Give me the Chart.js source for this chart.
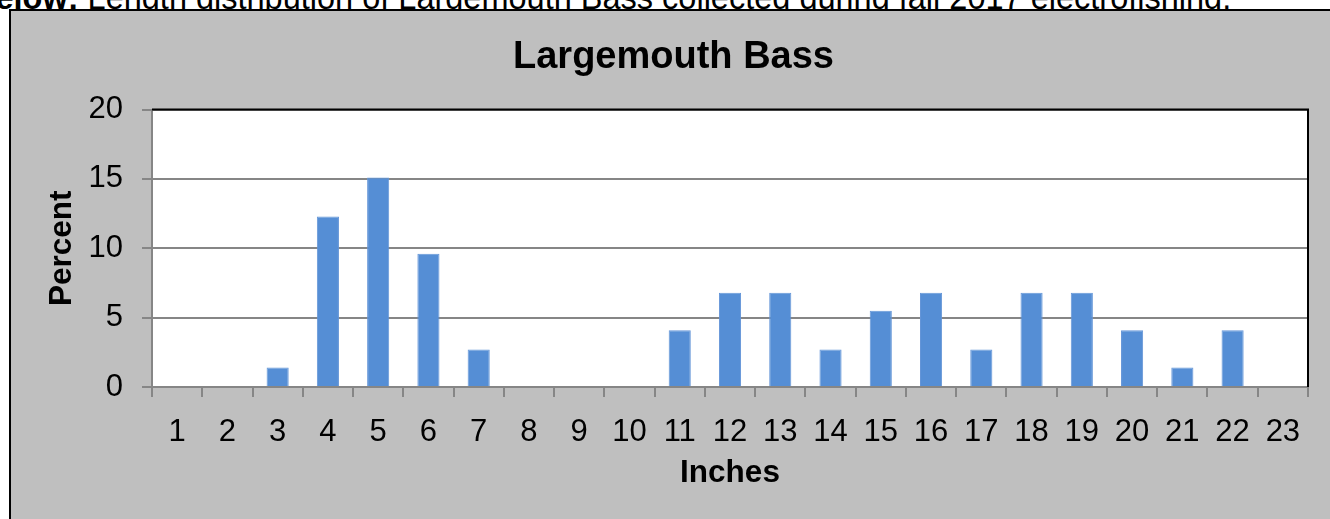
<!DOCTYPE html>
<html>
<head>
<meta charset="utf-8">
<script src="https://cdn.jsdelivr.net/npm/chart.js@4"></script>
<style>
  body { margin: 0; background: #fff; overflow: hidden; font-family: "Liberation Sans", Arial, sans-serif; }
  #caption { position: absolute; left: -28px; top: -20px; font-size: 32.5px; line-height: 36px; white-space: nowrap; color: #000; }
  #box { position: absolute; left: 9px; top: 9px; width: 1340px; height: 530px; border: 2px solid #000; background: #bfbfbf; }
  #bass { position: absolute; left: 0; top: 0; }
</style>
</head>
<body>
<div id="caption"><b>Below:</b> Length distribution of Largemouth Bass collected during fall 2017 electrofishing.</div>
<div id="box"><canvas id="bass" width="1319" height="508"></canvas></div>
<script>
const inches = ["1","2","3","4","5","6","7","8","9","10","11","12","13","14","15","16","17","18","19","20","21","22","23"];
const percent = [0, 0, 1.4, 12.3, 15.1, 9.6, 2.7, 0, 0, 0, 4.1, 6.8, 6.8, 2.7, 5.5, 6.8, 2.7, 6.8, 6.8, 4.1, 1.4, 4.1, 0];
const yTicks = [0, 5, 10, 15, 20];

const FONT = "'Liberation Sans', Arial, sans-serif";

// white plot area plus the dark top/right frame
const plotFrame = {
  id: "plotFrame",
  afterLayout(chart) {
    // title sits a bit right of the canvas centre in the original
    if (chart.titleBlock) {
      chart.titleBlock.left += 14;
      chart.titleBlock.right += 14;
    }
  },
  beforeDraw(chart) {
    const {ctx, chartArea: a} = chart;
    ctx.save();
    ctx.fillStyle = "#fff";
    ctx.fillRect(a.left, a.top, a.right - a.left, a.bottom - a.top);
    ctx.restore();
  },
  afterDatasetsDraw(chart) {
    const {ctx, chartArea: a} = chart;
    ctx.save();
    ctx.strokeStyle = "#000";
    ctx.lineWidth = 2;
    ctx.beginPath();
    ctx.moveTo(a.left, a.top);
    ctx.lineTo(a.right, a.top);
    ctx.lineTo(a.right, a.bottom);
    ctx.stroke();
    ctx.restore();
  }
};

new Chart(document.getElementById("bass"), {
  type: "bar",
  data: {
    labels: inches,
    datasets: [{
      data: percent,
      backgroundColor: "#558ED5",
      borderColor: "#6596D8",
      borderWidth: 1,
      categoryPercentage: 1,
      barPercentage: 0.44
    }]
  },
  options: {
    responsive: false,
    devicePixelRatio: 1,
    animation: false,
    layout: {padding: {left: 0, right: 22, top: 0, bottom: 0}},
    plugins: {
      legend: {display: false},
      tooltip: {enabled: false},
      title: {
        display: true,
        text: "Largemouth Bass",
        color: "#000",
        font: {family: FONT, size: 38, weight: "bold"},
        padding: {top: 24, bottom: 29}
      }
    },
    scales: {
      x: {
        afterFit(s) { s.height = 132; },
        grid: {drawOnChartArea: false, drawTicks: true, tickLength: 10, color: "#868686", lineWidth: 2},
        border: {color: "#868686", width: 2},
        ticks: {color: "#000", font: {family: FONT, size: 31}, padding: 17, maxRotation: 0, autoSkip: false},
        title: {display: true, text: "Inches", color: "#000", font: {family: FONT, size: 31.5, weight: "bold"}, padding: {top: 0, bottom: 27}}
      },
      y: {
        min: 0,
        max: 20,
        afterFit(s) { s.width = 141; },
        afterBuildTicks(s) { s.ticks = yTicks.map(v => ({value: v})); },
        grid: {color: "#868686", lineWidth: 2, tickLength: 10},
        border: {color: "#868686", width: 2},
        ticks: {color: "#000", font: {family: FONT, size: 31}, padding: 19},
        title: {display: true, text: "Percent", color: "#000", font: {family: FONT, size: 31.5, weight: "bold"}, padding: {top: 32, bottom: 0}}
      }
    }
  },
  plugins: [plotFrame]
});
</script>
</body>
</html>
